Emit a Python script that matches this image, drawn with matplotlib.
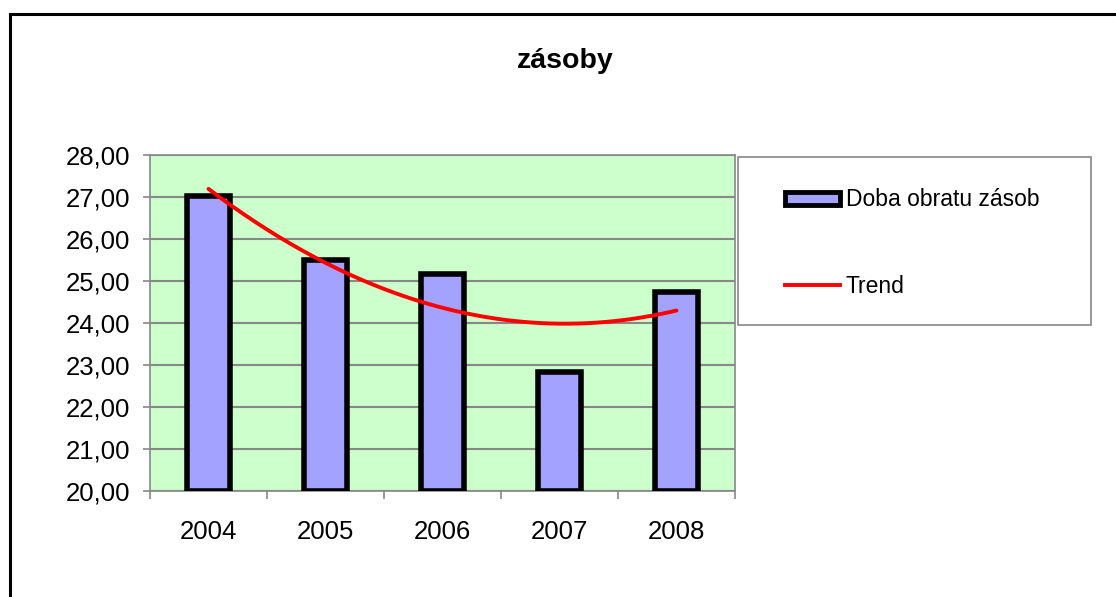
import numpy as np
import matplotlib
matplotlib.use("Agg")
import matplotlib.pyplot as plt
from matplotlib.lines import Line2D
from matplotlib.patches import Patch, Rectangle

plt.rcParams['font.family'] = ['Liberation Sans', 'DejaVu Sans']

years = ['2004', '2005', '2006', '2007', '2008']
doba_obratu = [27.02, 25.51, 25.17, 22.83, 24.74]
title = 'zásoby'
series_name = 'Doba obratu zásob'
trend_name = 'Trend'

W, H = 1116, 597
fig = plt.figure(figsize=(W / 100, H / 100), dpi=100)
ax = fig.add_axes([150 / W, 1 - 491 / H, (735 - 150) / W, (491 - 155) / H])

x = np.arange(len(years))
ax.set_facecolor('#CCFFCC')
ax.bar(x, np.array(doba_obratu) - 20, bottom=20, width=0.36, color='#A3A3FF',
       edgecolor='black', linewidth=4, zorder=3)

# polynomial (order 2) trendline, as in the spreadsheet
coef = np.polyfit(x, doba_obratu, 2)
xs = np.linspace(x[0], x[-1], 200)
ax.plot(xs, np.polyval(coef, xs), color='#FF0000', linewidth=2.8, zorder=4,
        solid_capstyle='round')

ax.set_xlim(-0.5, len(years) - 0.5)
ax.set_ylim(20, 28)
ax.set_yticks(np.arange(20, 29, 1))
ax.set_yticklabels([f'{v:.2f}'.replace('.', ',') for v in np.arange(20, 29, 1)])
ax.yaxis.grid(True, color='#888888', linewidth=1.5, zorder=1)
ax.set_axisbelow(True)

ax.set_xticks(x)
ax.set_xticklabels(years)
ax.set_xticks(np.arange(-0.5, len(years), 1), minor=True)
ax.tick_params(axis='x', which='major', length=0, pad=21, labelsize=18.5)
ax.tick_params(axis='x', which='minor', length=6, width=1.2, color='#888888')
ax.tick_params(axis='y', length=5, width=1.2, color='#888888', pad=9, labelsize=18.5)
for s in ax.spines.values():
    s.set_color('#888888')
    s.set_linewidth(1.2)

fig.text(565 / W, 1 - 61 / H, title, ha='center', va='center', fontsize=20.5,
         fontweight='bold')

# legend box
fig.add_artist(Rectangle((738 / W, 1 - 325 / H), (1091 - 738) / W, (325 - 157) / H,
                         transform=fig.transFigure, facecolor='white',
                         edgecolor='#888888', linewidth=1.2, zorder=5))
handles = [Patch(facecolor='#A3A3FF', edgecolor='black', linewidth=3.5),
           Line2D([0], [0], color='#FF0000', linewidth=2.8)]
leg = fig.legend(handles, [series_name, trend_name],
                 loc='center left', bbox_to_anchor=(785 / W, 1 - 243 / H),
                 frameon=False, fontsize=16.5,
                 labelspacing=2.75, handlelength=2.4, handleheight=0.5,
                 handletextpad=0.25, borderpad=0, borderaxespad=0)
leg.set_zorder(6)

# outer chart frame (left and top edges visible)
fig.add_artist(Line2D([10 / W, 10 / W], [0, 1 - 14 / H], transform=fig.transFigure,
                      color='black', linewidth=2.2))
fig.add_artist(Line2D([10 / W, 1], [1 - 14 / H, 1 - 14 / H], transform=fig.transFigure,
                      color='black', linewidth=2.2))

fig.savefig('out.png', dpi=100)
